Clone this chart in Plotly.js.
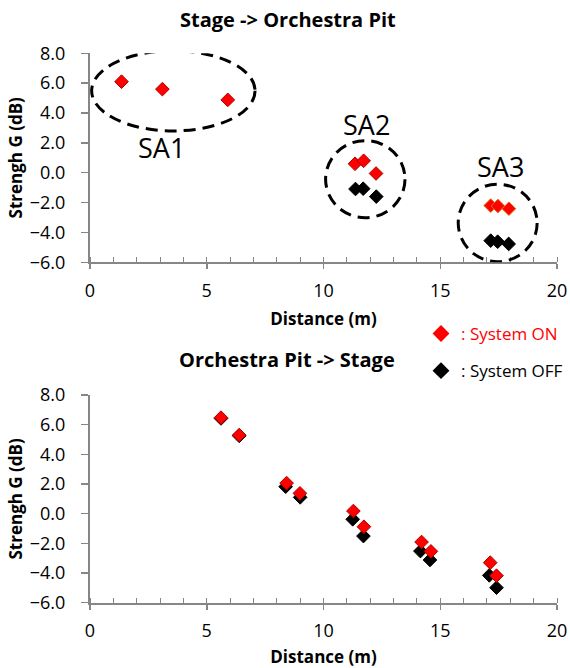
<!DOCTYPE html>
<html>
<head>
<meta charset="utf-8">
<script src="https://cdn.plot.ly/plotly-3.0.1.min.js"></script>
<style>html,body{margin:0;padding:0;background:#fff;}#chart{width:570px;height:668px;}</style>
</head>
<body>
<div id="chart"></div>
<script>
// ---- Data ----
// Top chart: Stage -> Orchestra Pit
const topOnX  = [1.35, 3.1, 5.9, 11.35, 11.72, 12.25, 17.16, 17.47, 17.94];
const topOnY  = [6.1, 5.6, 4.88, 0.6, 0.8, -0.05, -2.2, -2.23, -2.41];
const topOffX = [11.37, 11.7, 12.26, 17.16, 17.46, 17.93];
const topOffY = [-1.09, -1.07, -1.6, -4.55, -4.62, -4.77];
// Bottom chart: Orchestra Pit -> Stage
const botOnX  = [5.61, 6.39, 8.42, 8.99, 11.28, 11.73, 14.2, 14.6, 17.14, 17.41];
const botOnY  = [6.47, 5.3, 2.06, 1.37, 0.18, -0.88, -1.91, -2.54, -3.3, -4.18];
const botOffX = [5.61, 6.39, 8.38, 9.0, 11.25, 11.71, 14.15, 14.56, 17.1, 17.41];
const botOffY = [6.42, 5.25, 1.82, 1.1, -0.38, -1.51, -2.52, -3.12, -4.16, -4.99];
// Group annotations (label, ellipse extents in data units)
const groupLabels = ["SA1", "SA2", "SA3"];
const groupLabelX = [3.05, 11.86, 17.6];
const groupLabelY = [1.72, 3.25, 0.44];
const groupX0 = [0.07, 10.09, 15.77];
const groupX1 = [7.07, 13.49, 19.15];
const groupY0 = [2.8, -3.01, -5.96];
const groupY1 = [8.17, 2.15, -0.77];
const titles = ["Stage -> Orchestra Pit", "Orchestra Pit -> Stage"];
const xTitle = "Distance (m)";
const yTitle = "Strengh G (dB)";
const seriesNames = ["System ON", "System OFF"];

const FONT = "'Open Sans', sans-serif";
const RED = "#ff0000";
const axisCol = "#868686";

const topOnLine = topOnX.map(x => x > 15 ? "#e46c0a" : "#b00000");

const traces = [
  {x: topOnX, y: topOnY, xaxis: "x", yaxis: "y", type: "scatter", mode: "markers",
   marker: {symbol: "diamond", size: 10.5, color: RED, line: {color: topOnLine, width: 1}},
   name: seriesNames[0], legendgroup: "on", showlegend: false},
  {x: topOffX, y: topOffY, xaxis: "x", yaxis: "y", type: "scatter", mode: "markers",
   marker: {symbol: "diamond", size: 10.5, color: "#000", line: {color: "#000", width: 1}},
   name: seriesNames[1], legendgroup: "off", showlegend: false},
  {x: botOffX, y: botOffY, xaxis: "x2", yaxis: "y2", type: "scatter", mode: "markers",
   marker: {symbol: "diamond", size: 10.5, color: "#000", line: {color: "#000", width: 1}},
   name: seriesNames[1], legendgroup: "off", showlegend: false},
  {x: botOnX, y: botOnY, xaxis: "x2", yaxis: "y2", type: "scatter", mode: "markers",
   marker: {symbol: "diamond", size: 10.5, color: RED, line: {color: "#b00000", width: 1}},
   name: seriesNames[0], legendgroup: "on", showlegend: false},
  // legend entries (larger key symbols, as in the reference)
  {x: [null], y: [null], xaxis: "x", yaxis: "y", type: "scatter", mode: "markers",
   marker: {symbol: "diamond", size: 13, color: RED, line: {color: "#ff0000", width: 0}},
   name: '<span style="color:#ff0000">: ' + seriesNames[0] + '</span>',
   legendgroup: "on", showlegend: true, hoverinfo: "skip"},
  {x: [null], y: [null], xaxis: "x", yaxis: "y", type: "scatter", mode: "markers",
   marker: {symbol: "diamond", size: 13, color: "#000", line: {color: "#000", width: 0}},
   name: '<span style="color:#000">: ' + seriesNames[1] + '</span>',
   legendgroup: "off", showlegend: true, hoverinfo: "skip"}
];

const W = 570, H = 668;
const xDom = [90 / W, 557 / W];
const topDom = [1 - 262.3 / H, 1 - 53.3 / H];
const botDom = [1 - 602.7 / H, 1 - 395 / H];

function xAxis(anchor) {
  return {
    domain: xDom, anchor: anchor, range: [0, 20], dtick: 5, tick0: 0,
    showgrid: false, zeroline: false, showline: true, linecolor: axisCol, linewidth: 2,
    ticks: "outside", ticklen: 5, tickcolor: axisCol, tickwidth: 1.5,
    ticklabelstandoff: 6,
    minor: {ticks: "inside", dtick: 1, ticklen: 5, tickcolor: axisCol, tickwidth: 1},
    tickfont: {family: FONT, size: 18, color: "#000"},
    title: {text: "<b>" + xTitle + "</b>", font: {family: FONT, size: 17, color: "#000"}, standoff: 12},
    fixedrange: true
  };
}
function yAxis(anchor, dom) {
  return {
    domain: dom, anchor: anchor, range: [-6, 8], dtick: 2, tick0: 0, tickformat: ".1f",
    showgrid: false, zeroline: false, showline: true, linecolor: axisCol, linewidth: 2,
    ticks: "outside", ticklen: 7, tickcolor: axisCol, tickwidth: 1.5,
    ticklabelstandoff: 12,
    tickfont: {family: FONT, size: 18, color: "#000"},
    title: {text: "<b>" + yTitle + "</b>", font: {family: FONT, size: 17, color: "#000"}, standoff: 3},
    fixedrange: true
  };
}

const shapes = groupLabels.map((g, i) => ({
  type: "circle", xref: "x", yref: "y",
  x0: groupX0[i], x1: groupX1[i], y0: groupY0[i], y1: groupY1[i],
  line: {color: "#000", width: 3, dash: "12px,7px"}, layer: "above"
}));

const annotations = groupLabels.map((g, i) => ({
  text: g, x: groupLabelX[i], y: groupLabelY[i], xref: "x", yref: "y",
  xanchor: "center", yanchor: "middle",
  showarrow: false, font: {family: FONT, size: 27, color: "#000"}
}));
annotations.push({text: "<b>" + titles[0] + "</b>", xref: "paper", yref: "paper",
  x: 288 / W, y: 1 - 19 / H, xanchor: "center", yanchor: "middle",
  showarrow: false, font: {family: FONT, size: 20, color: "#000"}});
annotations.push({text: "<b>" + titles[1] + "</b>", xref: "paper", yref: "paper",
  x: 287 / W, y: 1 - 359 / H, xanchor: "center", yanchor: "middle",
  showarrow: false, font: {family: FONT, size: 20, color: "#000"}});

const layout = {
  width: W, height: H, margin: {l: 0, r: 0, t: 0, b: 0},
  paper_bgcolor: "#fff", plot_bgcolor: "#fff",
  showlegend: true,
  legend: {x: 421 / W, y: 1 - 316 / H, xanchor: "left", yanchor: "top",
    traceorder: "grouped", tracegroupgap: 12, itemsizing: "trace",
    font: {family: FONT, size: 17, color: "#000"}, bgcolor: "rgba(0,0,0,0)"},
  xaxis: xAxis("y"), yaxis: yAxis("x", topDom),
  xaxis2: xAxis("y2"), yaxis2: yAxis("x2", botDom),
  shapes: shapes, annotations: annotations
};

Plotly.newPlot("chart", traces, layout, {displayModeBar: false, staticPlot: true});
</script>
</body>
</html>
